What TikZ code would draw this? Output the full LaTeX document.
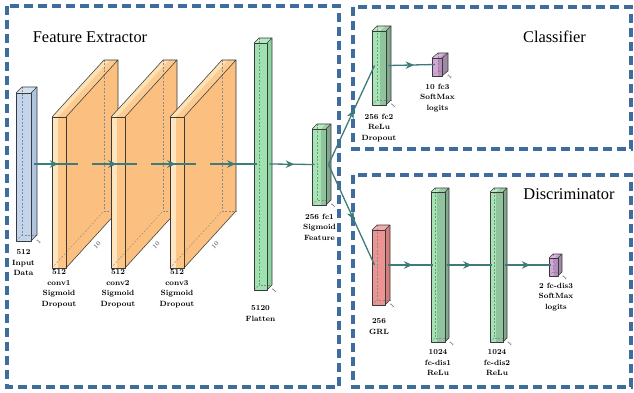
\documentclass[tikz,border=0pt]{standalone}
\usepackage{fontspec}
\newfontfamily\titlefont{Liberation Serif}
\usetikzlibrary{arrows.meta,decorations.markings}

\definecolor{conncol}{HTML}{3D7C7A}
\definecolor{framecol}{HTML}{3E6C9C}
\definecolor{edgecol}{HTML}{3A3A3A}
\definecolor{hidcol}{HTML}{8A8A8A}
% input (blue)
\definecolor{inpbase}{HTML}{C3D5EC}\definecolor{inpband}{HTML}{C3D5EC}
\definecolor{inptopbase}{HTML}{D3E1F2}\definecolor{inptopband}{HTML}{D3E1F2}
\definecolor{inpside}{HTML}{AFC4DE}
% conv (orange)
\definecolor{convbase}{HTML}{FFE6C0}\definecolor{convband}{HTML}{FDC687}
\definecolor{convtopbase}{HTML}{FFE2B4}\definecolor{convtopband}{HTML}{FCCB91}
\definecolor{convside}{HTML}{FBC080}
% flatten (green, no band)
\definecolor{flatbase}{HTML}{9DE3B0}\definecolor{flatband}{HTML}{9DE3B0}
\definecolor{flattopbase}{HTML}{B2EBC1}\definecolor{flattopband}{HTML}{B2EBC1}
\definecolor{flatside}{HTML}{8CD3A0}
% fc (green, banded)
\definecolor{fcbase}{HTML}{A3E6B3}\definecolor{fcband}{HTML}{8FC49D}
\definecolor{fctopbase}{HTML}{B5ECC3}\definecolor{fctopband}{HTML}{9DCBA9}
\definecolor{fcside}{HTML}{80A88C}
% GRL (red)
\definecolor{grlbase}{HTML}{EC9494}\definecolor{grlband}{HTML}{EC9494}
\definecolor{grltopbase}{HTML}{F2AAAA}\definecolor{grltopband}{HTML}{F2AAAA}
\definecolor{grlside}{HTML}{D47C7C}
% softmax (purple)
\definecolor{smbase}{HTML}{D3A5D8}\definecolor{smband}{HTML}{B68CBE}
\definecolor{smtopbase}{HTML}{DDB8E0}\definecolor{smtopband}{HTML}{C4A0CA}
\definecolor{smside}{HTML}{9E8BA3}

% #1 name, #2 x0, #3 band split, #4 x1, #5 ytop, #6 ybot, #7 dx, #8 dy, #9 colour set
\newcommand{\nnbox}[9]{%
  \pgfmathsetmacro{\nnay}{(#5+#6)/2-#8/2}%
  \fill[#9base] (#2,#5) rectangle (#3,#6);
  \fill[#9band] (#3,#5) rectangle (#4,#6);
  \fill[#9topbase] (#2,#5) -- (#3,#5) -- ({#3+#7},{#5-#8}) -- ({#2+#7},{#5-#8}) -- cycle;
  \fill[#9topband] (#3,#5) -- (#4,#5) -- ({#4+#7},{#5-#8}) -- ({#3+#7},{#5-#8}) -- cycle;
  \fill[#9side] (#4,#5) -- ({#4+#7},{#5-#8}) -- ({#4+#7},{#6-#8}) -- (#4,#6) -- cycle;
  \draw[hid] ({#2+#7},{#5-#8}) -- ({#2+#7},{#6-#8}) -- ({#4+#7},{#6-#8});
  \draw[hid] (#2,#6) -- ({#2+#7},{#6-#8});
  \draw[edge] (#2,#5) rectangle (#4,#6);
  \draw[edge] (#2,#5) -- ({#2+#7},{#5-#8}) -- ({#4+#7},{#5-#8}) -- (#4,#5);
  \draw[edge] ({#4+#7},{#5-#8}) -- ({#4+#7},{#6-#8}) -- (#4,#6);
  \coordinate (#1-w) at ({#2+#7/2},\nnay);
  \coordinate (#1-e) at ({#4+#7/2},\nnay);
  \coordinate (#1-z) at ({#4+#7/2+4.5},{#6-#8/2+3.5});
}

\begin{document}
\begin{tikzpicture}[x=1pt,y=-1pt,
  edge/.style={draw=edgecol, line width=0.55pt, line join=round},
  hid/.style={draw=hidcol, line width=0.4pt, dash pattern=on 2pt off 1.5pt},
  dashbox/.style={draw=framecol, line width=3.4pt, dash pattern=on 9pt off 5pt},
  conn/.style={draw=conncol, line width=1.3pt, postaction={decorate},
    decoration={markings, mark=at position 0.55 with {\arrow[conncol]{Stealth[length=8.5pt,width=7.5pt]}}}},
  lab/.style={font=\fontsize{7.6}{10.6}\selectfont\bfseries, align=center, inner sep=0pt, anchor=north},
  zlab/.style={font=\fontsize{6.5}{7}\selectfont, inner sep=0pt, rotate=47, text=edgecol},
  title/.style={font=\titlefont\fontsize{16.4}{18}\selectfont, inner sep=0pt}]
\useasboundingbox (0,0) rectangle (634,393);

% frames
\draw[dashbox] (7,6) rectangle (339,387);
\draw[dashbox] (353,7) rectangle (631,149);
\draw[dashbox] (353,175) rectangle (631,387);

\node[title] (fe-title) at (90,37) {Feature Extractor};
\node[title] (cl-title) at (554.5,37) {Classifier};
\node[title] (di-title) at (569,194) {Discriminator};

% boxes
\nnbox{inp}{16}{31}{31}{93}{241}{6}{6}{inp}
\nnbox{c1}{52}{58}{66}{117}{268}{52}{57}{conv}
\nnbox{c2}{111}{117}{125}{117}{268}{52}{57}{conv}
\nnbox{c3}{170}{176}{184}{117}{268}{52}{57}{conv}
\nnbox{fl}{254}{267}{267}{43}{290}{5}{5}{flat}
\nnbox{fc1}{312}{321}{326}{129}{205}{5}{5}{fc}
\nnbox{fc2}{372}{380}{386}{31}{105}{5}{5}{fc}
\nnbox{fc3}{432}{438}{442}{58}{76}{6}{5}{sm}
\nnbox{grl}{372}{385}{385}{230}{305}{5}{5}{grl}
\nnbox{d1}{431}{437}{445}{192}{342}{4}{4}{fc}
\nnbox{d2}{490}{496}{503}{192}{342}{4}{4}{fc}
\nnbox{d3}{549}{554}{558}{258}{276}{4}{4}{sm}

% depth labels
\node[zlab] (inp-zl) at (inp-z) {1};
\node[zlab] (c1-zl) at (97,245) {10};
\node[zlab] (c2-zl) at (156,245) {10};
\node[zlab] (c3-zl) at (215,245) {10};
\node[zlab] (fl-zl) at (fl-z) {1};
\node[zlab] (fc1-zl) at (fc1-z) {1};
\node[zlab] (fc2-zl) at (fc2-z) {1};
\node[zlab] (fc3-zl) at (fc3-z) {1};
\node[zlab] (grl-zl) at (grl-z) {1};
\node[zlab] (d1-zl) at (d1-z) {1};
\node[zlab] (d2-zl) at (d2-z) {1};
\node[zlab] (d3-zl) at (d3-z) {1};

% captions
\node[lab] (inp-lab) at (23.5,249.5) {512\\Input\\Data};
\node[lab] (c1-lab) at (59,269.5) {512\\conv1\\Sigmoid\\Dropout};
\node[lab] (c2-lab) at (118,269.5) {512\\conv2\\Sigmoid\\Dropout};
\node[lab] (c3-lab) at (177,269.5) {512\\conv3\\Sigmoid\\Dropout};
\node[lab] (fl-lab) at (260.5,305.5) {5120\\Flatten};
\node[lab] (fc1-lab) at (319.5,213.5) {256 fc1\\Sigmoid\\Feature};
\node[lab] (fc2-lab) at (379,113.5) {256 fc2\\ReLu\\Dropout};
\node[lab] (fc3-lab) at (437.5,83.5) {10 fc3\\SoftMax\\logits};
\node[lab] (grl-lab) at (379,318.5) {256\\GRL};
\node[lab] (d1-lab) at (438,349.5) {1024\\fc-dis1\\ReLu};
\node[lab] (d2-lab) at (497,349.5) {1024\\fc-dis2\\ReLu};
\node[lab] (d3-lab) at (556,282.5) {2 fc-dis3\\SoftMax\\logits};

% connections
\draw[conn] (inp-e) -- (c1-w);
\draw[conn] (c1-e) -- (c2-w);
\draw[conn] (c2-e) -- (c3-w);
\draw[conn] (c3-e) -- (fl-w);
\draw[conn] (fl-e) -- (fc1-w);
\draw[conn] (fc1-e) -- (fc2-w);
\draw[conn] (fc1-e) -- (grl-w);
\draw[conn] (fc2-e) -- (fc3-w);
\draw[conn] (grl-e) -- (d1-w);
\draw[conn] (d1-e) -- (d2-w);
\draw[conn] (d2-e) -- (d3-w);
\end{tikzpicture}
\end{document}
